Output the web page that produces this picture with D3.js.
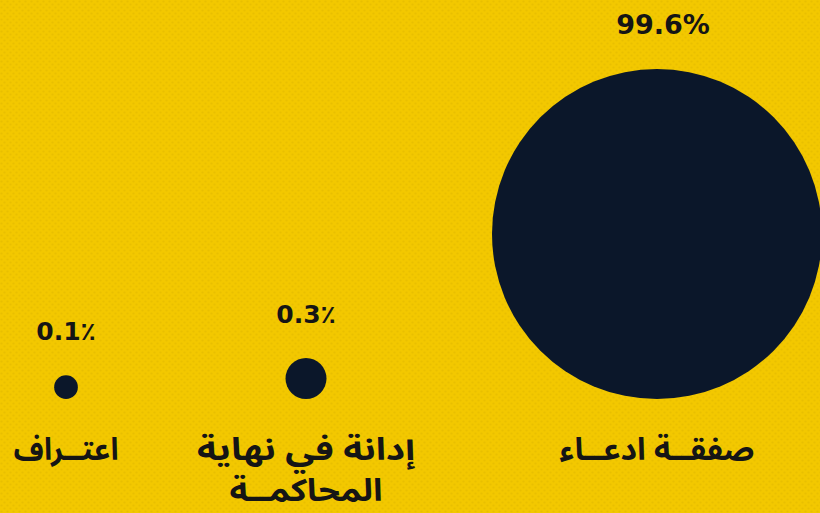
<!DOCTYPE html>
<html lang="ar">
<head>
<meta charset="UTF-8">
<title>Chart</title>
<script src="https://d3js.org/d3.v7.min.js"></script>
<style>
  html, body { margin: 0; padding: 0; background: #f3c800; }
  #chart { width: 820px; height: 513px; }
</style>
</head>
<body>
<div id="chart"></div>
<script>
    // data
    const categories = ["اعتــراف", "إدانة في نهاية|المحاكمــة", "صفقــة ادعــاء"];
    const shares = [0.1, 0.3, 99.6];
    const shareLabels = ["0.1٪", "0.3٪", "99.6%"];

    var width = 820,
        height = 513,
        baseY = 399;

    const svg = d3.select("#chart").append("svg")
        .attr("width", width)
        .attr("height", height);

    // dotted yellow background
    const defs = svg.append("defs");
    const pat = defs.append("pattern")
        .attr("id", "dots")
        .attr("width", 6).attr("height", 6)
        .attr("patternUnits", "userSpaceOnUse");
    pat.append("rect").attr("width", 6).attr("height", 6).attr("fill", "#f3c800");
    pat.append("circle").attr("cx", 1.5).attr("cy", 1.5).attr("r", 1.1).attr("fill", "#e9bf00");
    pat.append("circle").attr("cx", 4.5).attr("cy", 4.5).attr("r", 1.1).attr("fill", "#e9bf00");
    svg.append("rect").attr("width", width).attr("height", height).attr("fill", "url(#dots)");

    const x = d3.scaleOrdinal()
        .domain(categories)
        .range([66, 306, 657]);

    const r = d3.scaleSqrt()
        .domain([0, 0.3, 99.6])
        .range([0, 20.5, 165]);

    const data = categories.map((c, i) => ({ name: c, value: shares[i], label: shareLabels[i] }));

    const g = svg.selectAll("g.item")
        .data(data)
        .join("g")
        .attr("class", "item")
        .attr("transform", d => `translate(${x(d.name)},0)`);

    g.append("circle")
        .attr("cy", d => baseY - r(d.value))
        .attr("r", d => r(d.value))
        .attr("fill", "#0b172a");

    g.append("text")
        .attr("y", d => baseY - 2 * r(d.value) - 35)
        .attr("dx", (d, i) => i == 2 ? 6 : 0)
        .attr("text-anchor", "middle")
        .attr("font-family", "'DejaVu Sans', sans-serif")
        .attr("font-weight", "bold")
        .attr("font-size", (d, i) => i == 2 ? 27 : 25)
        .attr("fill", "#151515")
        .text(d => d.label);

    // category names, widened a bit to match the wide arabic face
    const widths = [105, 218, 195];
    const lab = g.append("text")
        .attr("text-anchor", "middle")
        .attr("direction", "rtl")
        .attr("font-family", "'Noto Sans Arabic', 'DejaVu Sans', sans-serif")
        .attr("font-weight", "bold")
        .attr("font-size", 31)
        .attr("fill", "#151515");

    lab.selectAll("tspan")
        .data((d, i) => d.name.split("|").map((t, j) => ({ t, j, w: j == 0 ? widths[i] : 153 })))
        .join("tspan")
        .attr("x", 0)
        .attr("y", d => 460 + d.j * 41)
        .attr("textLength", d => d.w)
        .attr("lengthAdjust", "spacingAndGlyphs")
        .text(d => d.t);
</script>
</body>
</html>
